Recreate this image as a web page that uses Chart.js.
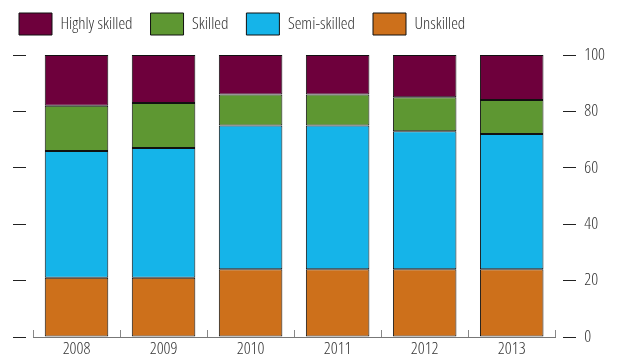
<!DOCTYPE html>
<html><head><meta charset="utf-8">
<script src="https://cdn.jsdelivr.net/npm/chart.js@4/dist/chart.umd.min.js"></script>
<style>html,body{margin:0;padding:0;background:#fff}</style>
</head><body>
<canvas id="c" width="617" height="356"></canvas>
<script>
const categories = ['2008', '2009', '2010', '2011', '2012', '2013'];
const unskilled = [21, 21, 24, 24, 24, 24];
const semiSkilled = [45, 46, 51, 51, 49, 48];
const skilled = [16, 16, 11, 11, 12, 12];
const highlySkilled = [18, 17, 14, 14, 15, 16];
const seriesNames = ['Unskilled', 'Semi-skilled', 'Skilled', 'Highly skilled'];
const yMin = 0, yMax = 100, yStep = 20;

const FONT = "'Open Sans', 'DejaVu Sans Condensed', sans-serif";
const WEIGHT = '300 condensed';
const TXT = '#333333';

const colors = ['#cd701b', '#15b4e9', '#5e9732', '#6e003c'];
const values = [unskilled, semiSkilled, skilled, highlySkilled];

new Chart(document.getElementById('c'), {
  type: 'bar',
  data: {
    labels: categories,
    datasets: seriesNames.map((n, i) => ({
      label: n,
      data: values[i],
      backgroundColor: colors[i],
      borderColor: '#111111',
      borderWidth: 1,
      borderSkipped: false,
      categoryPercentage: 1,
      barPercentage: 0.73,
      yAxisID: 'y'
    }))
  },
  options: {
    responsive: false,
    animation: false,
    layout: { padding: { top: -5, left: 1, right: 4, bottom: -12 } },
    plugins: {
      tooltip: { enabled: false },
      legend: {
        position: 'top',
        align: 'start',
        reverse: true,
        labels: {
          boxWidth: 33,
          boxHeight: 22,
          padding: 18,
          color: TXT,
          font: { family: FONT, size: 17, weight: WEIGHT }
        }
      }
    },
    scales: {
      x: {
        stacked: true,
        position: 'bottom',
        grid: { offset: true, drawOnChartArea: false, drawTicks: true, tickLength: -7, tickColor: '#888888' },
        border: { display: true, color: '#777777', width: 1 },
        ticks: { color: TXT, padding: 10.5, font: { family: FONT, size: 17, weight: WEIGHT, lineHeight: 1 } }
      },
      xTop: {
        type: 'category',
        position: 'top',
        labels: categories,
        grid: { drawOnChartArea: false, drawTicks: true, tickLength: 10, tickColor: 'rgba(0,0,0,0)' },
        border: { display: false },
        ticks: { display: false }
      },
      y: {
        stacked: true,
        position: 'right',
        min: yMin, max: yMax,
        grid: { drawOnChartArea: false, drawTicks: true, tickLength: 21, tickColor: '#222222',
                tickBorderDash: [13, 8], tickBorderDashOffset: 13 },
        border: { display: false },
        ticks: { stepSize: yStep, color: TXT, padding: 8, font: { family: FONT, size: 17, weight: WEIGHT } }
      },
      yL: {
        position: 'left',
        min: yMin, max: yMax,
        grid: { drawOnChartArea: false, drawTicks: true, tickLength: 32, tickColor: '#222222',
                tickBorderDash: [13, 19], tickBorderDashOffset: 20 },
        border: { display: false },
        ticks: { stepSize: yStep, display: false }
      }
    }
  }
});
</script>
</body></html>
